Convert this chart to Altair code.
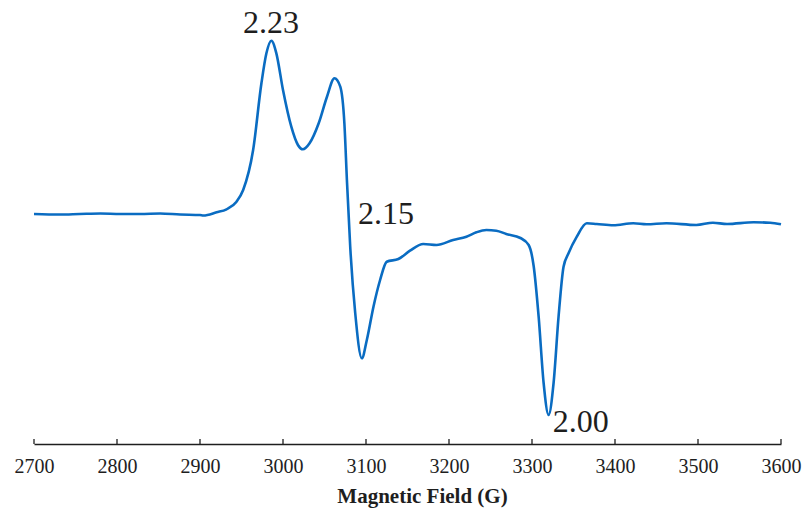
import altair as alt
import pandas as pd

# Magnetic field (G) and EPR signal intensity (arbitrary units)
field = [2700, 2731, 2755, 2780, 2804, 2828, 2852, 2876, 2900, 2904, 2920, 2932, 2944,
         2952, 2964, 2974, 2980, 2986, 2992, 3000, 3010, 3018, 3024, 3032, 3043, 3053,
         3062, 3069, 3074, 3077, 3081, 3087, 3095, 3101, 3109, 3117, 3125, 3139, 3153,
         3169, 3185, 3205, 3221, 3233, 3245, 3257, 3269, 3286, 3296, 3302, 3308, 3314,
         3320, 3326, 3332, 3338, 3344, 3354, 3366, 3378, 3398, 3422, 3438, 3462, 3498,
         3518, 3535, 3567, 3587, 3600]
intensity = [0, -0.5, 0, 0.5, 0, 0, 0.5, -0.5, -1, -1.5, 1.7, 4.7, 12.3,
             24, 64, 130.7, 160.7, 173.3, 160.7, 124, 87.3, 69, 64.7, 70.7, 90.7, 117.3,
             135.7, 127.3, 90, 34, -33, -99, -144.3, -126, -92.7, -66, -47.7, -45, -36.7,
             -30, -31, -26, -22.7, -18.3, -16, -16.7, -20, -24, -31, -52, -102.7, -169,
             -201, -169, -102.7, -52.7, -39.3, -22.7, -9.3, -10, -11.3, -9.3, -10.3, -9.3, -11,
             -8.7, -10, -8.3, -8.7, -10.3]

# g-value annotations
label_text = ["2.23", "2.15", "2.00"]
label_field = [2985.5, 3090.5, 3325]
label_intensity = [180.7, -10.3, -217.7]
label_align = ["center", "left", "left"]

tick_values = [2700, 2800, 2900, 3000, 3100, 3200, 3300, 3400, 3500, 3600]

spec_df = pd.DataFrame({"field": field, "intensity": intensity})
tick_df = pd.DataFrame({"tick": tick_values})

SERIF = "Liberation Serif"
INK = "#1e1e1e"

xscale = alt.Scale(domain=[2700, 3600], nice=False, zero=False)
yscale = alt.Scale(domain=[-230, 204], nice=False, zero=False)

line = alt.Chart(spec_df).mark_line(
    color="#0a6cc2", strokeWidth=2.6, interpolate="monotone"
).encode(
    x=alt.X("field:Q", scale=xscale, axis=alt.Axis(
        values=tick_values, format="d", ticks=False, grid=False,
        domain=True, domainColor=INK, domainWidth=1.3,
        labelFont=SERIF, labelFontSize=20, labelColor=INK, labelPadding=12,
        labelFlush=False,
        title="Magnetic Field (G)", titleFont=SERIF, titleFontSize=21,
        titleFontWeight="bold", titleColor=INK, titleX=388, titleY=58,
        titleAlign="center", titleBaseline="alphabetic")),
    y=alt.Y("intensity:Q", scale=yscale, axis=None),
)

ticks = alt.Chart(tick_df).mark_rule(color=INK, strokeWidth=1.3).encode(
    x=alt.X("tick:Q", scale=xscale),
    y=alt.value(429),
    y2=alt.value(434),
)

layers = [line, ticks]
for i in range(len(label_text)):
    d = pd.DataFrame({"text": [label_text[i]], "field": [label_field[i]],
                      "intensity": [label_intensity[i]]})
    layers.append(alt.Chart(d).mark_text(
        font=SERIF, fontSize=32, color=INK, align=label_align[i], baseline="alphabetic"
    ).encode(
        x=alt.X("field:Q", scale=xscale),
        y=alt.Y("intensity:Q", scale=yscale),
        text="text:N",
    ))

chart = alt.layer(*layers).properties(
    width=747, height=434,
    background="white",
    autosize=alt.AutoSizeParams(type="none"),
    padding={"left": 34, "top": 10, "right": 23, "bottom": 65},
).configure_view(strokeWidth=0, stroke="transparent")

chart.save("out.html", embed_options={"renderer": "svg", "actions": False})
